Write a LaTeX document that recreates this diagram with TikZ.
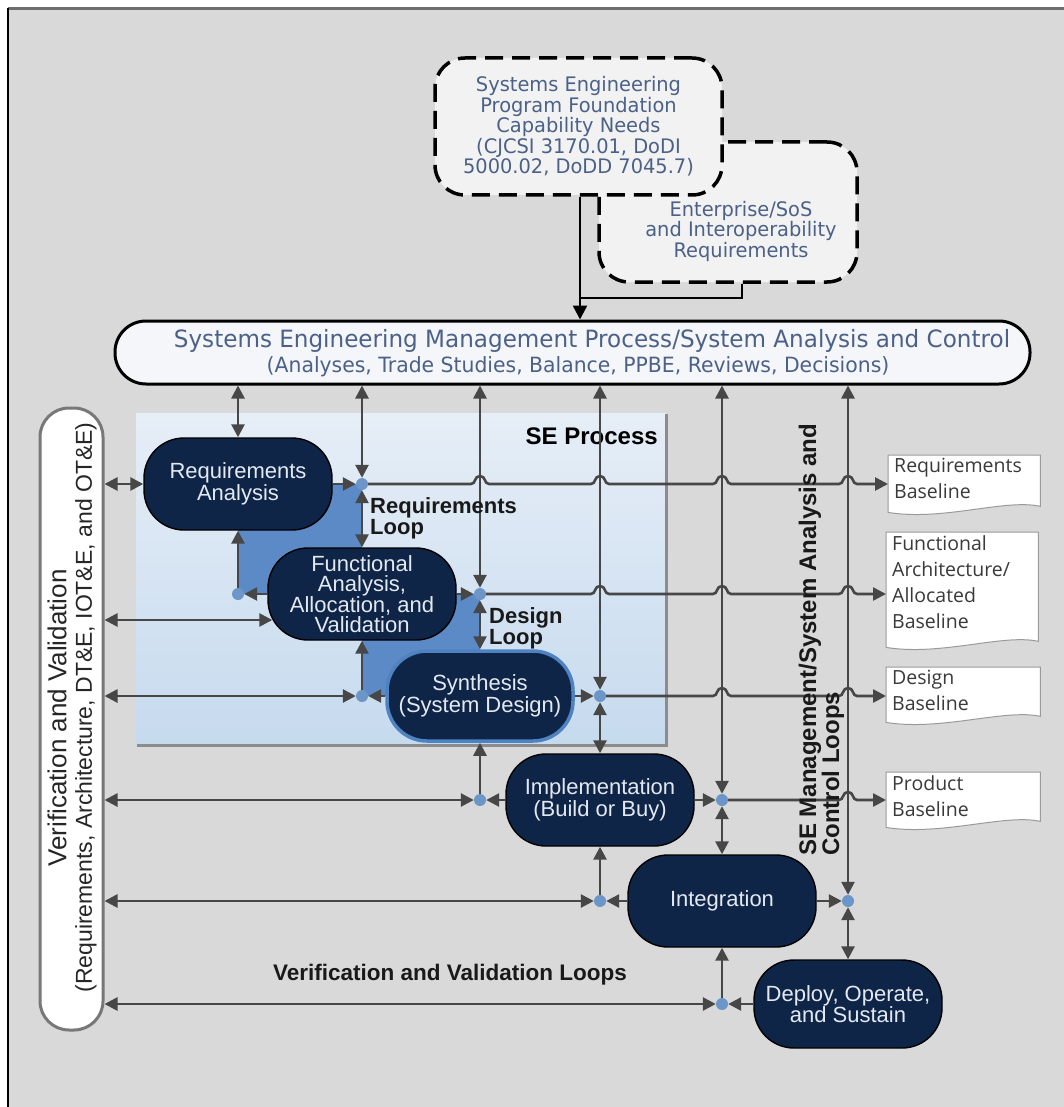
\documentclass[tikz,border=0pt]{standalone}
\usepackage{fontspec}
\setmainfont{Liberation Sans}
\newfontfamily\humanist[FakeStretch=0.97]{DejaVu Sans}
\newfontfamily\docface{Open Sans}
\usetikzlibrary{arrows.meta,calc}

\definecolor{canvas}{HTML}{D9D9D9}
\definecolor{frameline}{HTML}{6E6E6E}
\definecolor{navy}{HTML}{0F2548}
\definecolor{navytext}{HTML}{E4E9F1}
\definecolor{wire}{HTML}{474747}
\definecolor{junction}{HTML}{6C96C8}
\definecolor{loopblue}{HTML}{5B8AC6}
\definecolor{paneltop}{HTML}{E6EEF7}
\definecolor{panelbot}{HTML}{C6DAEE}
\definecolor{panelshadow}{HTML}{8C8C8C}
\definecolor{slate}{HTML}{4B6187}
\definecolor{docline}{HTML}{9A9A9A}
\definecolor{doctext}{HTML}{3A3A3A}
\definecolor{pale}{HTML}{F2F2F2}
\definecolor{barfill}{HTML}{F4F6F9}
\definecolor{vvline}{HTML}{787878}
\definecolor{synthedge}{HTML}{4F82C0}

% a horizontal line hopping over a vertical one at (#1,#2)
\newcommand\hop[2]{-- (#1-9,#2) .. controls (#1-4,#2) and (#1-6,#2-8) .. (#1,#2-8) .. controls (#1+6,#2-8) and (#1+4,#2) .. (#1+9,#2)}
% baseline sheet with a wavy lower edge, drawn around an empty frame node
\newcommand\docsheet[1]{\filldraw[fill=white, draw=docline, line width=1pt]
  (#1.north west) -- (#1.north east) -- ([yshift=6pt]#1.south east)
  .. controls ([xshift=-35pt,yshift=14pt]#1.south east) and ([xshift=55pt,yshift=-9pt]#1.south west) .. (#1.south west) -- cycle;}

\begin{document}
\begin{tikzpicture}[x=1pt,y=-1pt,
  proc/.style={rectangle, rounded corners=40pt, fill=navy, draw=black, line width=1.4pt,
    text=navytext, font=\fontsize{22}{20}\selectfont, align=center,
    minimum width=188pt, minimum height=92pt, inner sep=0pt},
  dot/.style={circle, fill=junction, inner sep=0pt, minimum size=12pt},
  wire/.style={draw=wire, line width=2.6pt},
  >={Triangle[length=13pt,width=13pt]},
  dashbox/.style={rectangle, rounded corners=30pt, draw=black, line width=3.5pt,
    dash pattern=on 18pt off 9pt, fill=pale, inner sep=0pt},
  toptext/.style={text=slate, font=\humanist\fontsize{20}{20.5}\selectfont, align=center, inner sep=0pt},
  docframe/.style={rectangle, inner sep=0pt, anchor=north west},
  doctxt/.style={text=doctext, font=\docface\fontsize{19.5}{26}\selectfont, align=left, inner sep=0pt, anchor=north west},
  boldlabel/.style={font=\bfseries\fontsize{22}{21}\selectfont, align=left, inner sep=0pt, text=black!90}
]
\useasboundingbox (0,0) rectangle (1064,1107);
\fill[white] (0,0) rectangle (1064,1107);
\fill[canvas] (8,8) rectangle (1064,1107);
\draw[frameline, line width=3pt] (8,8.5) -- (1064,8.5);
\draw[black, line width=2pt] (8,8) -- (8,1107);

% SE process panel and the two loop bands
\shade[top color=paneltop, bottom color=panelbot] (136,413) rectangle (666,745);
\draw[panelshadow, line width=3pt] (666,414) -- (666,745) -- (137,745);
\fill[loopblue] (238,484) rectangle (362,594);
\fill[loopblue] (362,594) rectangle (480,696);
\node[font=\bfseries\fontsize{24}{24}\selectfont, anchor=east, inner sep=0pt] (seproc) at (658,436) {SE Process};

% foundation inputs
\node[dashbox, minimum width=258pt, minimum height=140pt] (ent) at (728,212) {};
\node[toptext] (entlabel) at (741,231) {Enterprise/SoS\\and Interoperability\\Requirements};
\node[dashbox, minimum width=287pt, minimum height=137pt] (fnd) at (578.5,126.5) {};
\node[toptext] (fndlabel) at (578.5,126.5) {Systems Engineering\\Program Foundation\\Capability Needs\\(CJCSI 3170.01, DoDI\\5000.02, DoDD 7045.7)};

% management bar
\node[rectangle, rounded corners=31pt, draw=black, line width=3pt, fill=barfill,
      minimum width=915pt, minimum height=63pt, inner sep=0pt] (semp) at (572.5,352.5) {};
\node[text=slate, font=\humanist\fontsize{23.8}{24}\selectfont, inner sep=0pt] (sempA) at (592,341)
  {Systems Engineering Management Process/System Analysis and Control};
\node[text=slate, font=\humanist\fontsize{21}{21}\selectfont, inner sep=0pt] (sempB) at (578,367)
  {(Analyses, Trade Studies, Balance, PPBE, Reviews, Decisions)};

\coordinate (join) at (580,298);
\coordinate (entdrop) at (742,0);
\draw[black, line width=2.5pt, -{Triangle[length=14pt,width=14pt]}] (fnd.south -| join) -- (semp.north -| join);
\draw[black, line width=2.5pt] (ent.south -| entdrop) |- (join);

% verification and validation bar
\node[rectangle, rounded corners=29pt, draw=vvline, line width=3pt, fill=white,
      minimum width=63pt, minimum height=622pt, inner sep=0pt] (vv) at (71.5,719) {};
\node[rotate=90, font=\fontsize{26}{26}\selectfont, inner sep=0pt, text=black!85] (vvA) at (57,718) {Verification and Validation};
\node[rotate=90, font=\fontsize{23}{23}\selectfont, inner sep=0pt, text=black!85] (vvB) at (86,707.5) {(Requirements, Architecture, DT\&E, IOT\&E, and OT\&E)};

% process steps
\node[proc] (ra) at (238,484) {Requirements\\Analysis};
\node[proc] (fa) at (362,594) {Functional\\Analysis,\\Allocation, and\\Validation};
\node[proc, draw=synthedge, line width=3.5pt, minimum width=186pt, minimum height=90pt] (sy) at (480,696) {Synthesis\\(System Design)};
\node[proc] (im) at (600,800) {Implementation\\(Build or Buy)};
\node[proc] (ig) at (722,901) {Integration};
\node[proc, minimum height=88pt] (dp) at (848,1004) {Deploy, Operate,\\and Sustain};

% junctions
\node[dot] (R1) at (362,484) {};
\node[dot] (R2) at (480,594) {};
\node[dot] (R3) at (600,696) {};
\node[dot] (R4) at (722,800) {};
\node[dot] (R5) at (848,901) {};
\node[dot] (L1) at (238,594) {};
\node[dot] (L2) at (362,696) {};
\node[dot] (L3) at (480,800) {};
\node[dot] (L4) at (600,901) {};
\node[dot] (L5) at (722,1004) {};
\coordinate (faIn) at ([xshift=5pt,yshift=-26pt]fa.west);

% baselines
\node[docframe, minimum width=152pt, minimum height=57pt] (rb) at (888,455) {};
\node[docframe, minimum width=152pt, minimum height=115pt] (fb) at (886,532) {};
\node[docframe, minimum width=154pt, minimum height=55pt] (db) at (886,667) {};
\node[docframe, minimum width=154pt, minimum height=55pt] (pb) at (886,772) {};
\docsheet{rb}\docsheet{fb}\docsheet{db}\docsheet{pb}
\node[doctxt] (rbt) at ([xshift=6pt,yshift=-3pt]rb.north west) {Requirements\\Baseline};
\node[doctxt] (fbt) at ([xshift=6pt,yshift=-3pt]fb.north west) {Functional\\Architecture/\\Allocated\\Baseline};
\node[doctxt] (dbt) at ([xshift=6pt,yshift=-3pt]db.north west) {Design\\Baseline};
\node[doctxt] (pbt) at ([xshift=6pt,yshift=-3pt]pb.north west) {Product\\Baseline};

% management loops
\draw[wire,<->] (semp.south -| ra) -- (ra);
\foreach \j in {R1,R2,R3,R4,R5} \draw[wire,<->] (semp.south -| \j) -- (\j);

% forward flow through the steps
\draw[wire,->] (ra) -- (R1); \draw[wire,<->] (R1) -- (fa);
\draw[wire,->] (fa) -- (R2); \draw[wire,<->] (R2) -- (sy);
\draw[wire,->] (sy) -- (R3); \draw[wire,<->] (R3) -- (im);
\draw[wire,->] (im) -- (R4); \draw[wire,<->] (R4) -- (ig);
\draw[wire,->] (ig) -- (R5); \draw[wire,<->] (R5) -- (dp);

% feedback to the previous step
\draw[wire,->] (fa) -- (L1); \draw[wire,->] (L1) -- (ra);
\draw[wire,->] (sy) -- (L2); \draw[wire,->] (L2) -- (fa);
\draw[wire,->] (im) -- (L3); \draw[wire,->] (L3) -- (sy);
\draw[wire,->] (ig) -- (L4); \draw[wire,->] (L4) -- (im);
\draw[wire,->] (dp) -- (L5); \draw[wire,->] (L5) -- (ig);

% verification and validation loops
\draw[wire,<->] (vv.east |- ra) -- (ra);
\draw[wire,<->] (vv.east |- faIn) -- (faIn);
\foreach \j in {L2,L3,L4,L5} \draw[wire,<->] (vv.east |- \j) -- (\j);

% outputs to the baselines
\draw[wire,->] (R1) \hop{480}{484} \hop{600}{484} \hop{722}{484} \hop{848}{484} -- (R1 -| rb.west);
\draw[wire,->] (R2) \hop{600}{594} \hop{722}{594} \hop{848}{594} -- (R2 -| fb.west);
\draw[wire,->] (R3) \hop{722}{696} \hop{848}{696} -- (R3 -| db.west);
\draw[wire,->] (R4) \hop{848}{800} -- (R4 -| pb.west);

% loop labels
\node[boldlabel, anchor=west] (reqloop) at (370,518.5) {Requirements\\Loop};
\node[boldlabel, anchor=west] (desloop) at (489,628) {Design\\Loop};
\node[boldlabel, anchor=center, font=\bfseries\fontsize{22.5}{21}\selectfont] (vvloop) at (450,975) {Verification and Validation Loops};
\node[rotate=90, anchor=west, align=left, inner sep=0pt, text=black!90,
      font=\bfseries\fontsize{24}{23}\selectfont] (mgmtloop) at (821.5,856) {SE Management/System Analysis and\\Control Loops};
\end{tikzpicture}
\end{document}
